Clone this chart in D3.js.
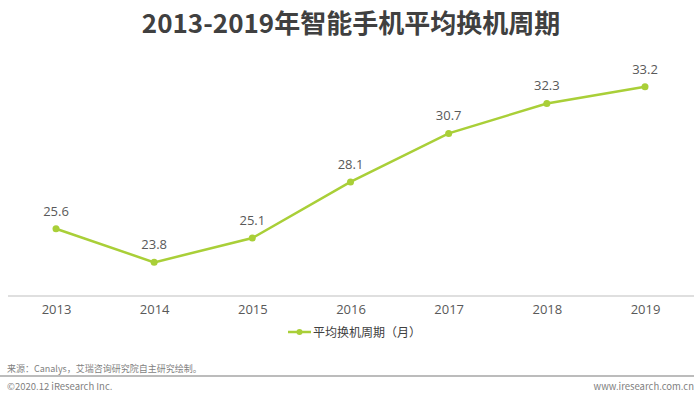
<!DOCTYPE html>
<html>
<head>
<meta charset="utf-8">
<script src="https://cdn.jsdelivr.net/npm/d3@7"></script>
<style>
  body { margin: 0; background: #fff; }
  text { font-family: "Noto Sans CJK SC", "Open Sans", sans-serif; }
</style>
</head>
<body>
<script>
var width = 700,
    height = 399

var years = ['2013', '2014', '2015', '2016', '2017', '2018', '2019']
var cycle = [25.6, 23.8, 25.1, 28.1, 30.7, 32.3, 33.2]

var data = years.map(function(d, i){ return {year: d, v: cycle[i]} })

var green = '#a9cf38'

var x = d3.scalePoint()
    .domain(years)
    .range([56, 645])

var y = d3.scaleLinear()
    .domain([22, 35])
    .range([296, 53])

var svg = d3.select('body').append('svg')
    .attr('width', width)
    .attr('height', height)

svg.append('text')
    .attr('x', 351).attr('y', 33)
    .attr('text-anchor', 'middle')
    .style('font-size', '26px')
    .style('font-weight', 'bold')
    .style('fill', '#404040')
    .text('2013-2019年智能手机平均换机周期')

// x axis
var xAxis = svg.append('g')
    .attr('transform', 'translate(0,296)')
    .call(d3.axisBottom(x).tickSize(0).tickPadding(9))
xAxis.select('.domain').remove()
xAxis.selectAll('text')
    .style('font-size', '13px')
    .style('fill', '#595959')
    .style('font-family', '"Open Sans", sans-serif')

svg.append('line')
    .attr('x1', 8).attr('x2', 694)
    .attr('y1', 296).attr('y2', 296)
    .attr('stroke', '#bfbfbf')
    .attr('stroke-width', 1)

var line = d3.line()
    .x(function(d){ return x(d.year) })
    .y(function(d){ return y(d.v) })

svg.append('path')
    .datum(data)
    .attr('d', line)
    .attr('fill', 'none')
    .attr('stroke', green)
    .attr('stroke-width', 2.5)

svg.selectAll('circle.pt')
    .data(data)
  .enter().append('circle')
    .attr('class', 'pt')
    .attr('cx', function(d){ return x(d.year) })
    .attr('cy', function(d){ return y(d.v) })
    .attr('r', 3.5)
    .attr('fill', green)

svg.selectAll('text.lbl')
    .data(data)
  .enter().append('text')
    .attr('class', 'lbl')
    .attr('x', function(d){ return x(d.year) })
    .attr('y', function(d){ return y(d.v) - 13 })
    .attr('text-anchor', 'middle')
    .style('font-size', '13px')
    .style('fill', '#595959')
    .style('font-family', '"Open Sans", sans-serif')
    .text(function(d){ return d.v.toFixed(1) })

// legend
var lg = svg.append('g').attr('transform', 'translate(288,332)')
lg.append('line')
    .attr('x1', 0).attr('x2', 23)
    .attr('stroke', green).attr('stroke-width', 2.5)
lg.append('circle')
    .attr('cx', 11.5).attr('r', 3).attr('fill', green)
lg.append('text')
    .attr('x', 25).attr('y', 4.5)
    .style('font-size', '12px')
    .style('fill', '#404040')
    .text('平均换机周期（月）')

// footer
svg.append('text')
    .attr('x', 7).attr('y', 372)
    .style('font-size', '9px')
    .style('fill', '#7f7f7f')
    .text('来源：Canalys，艾瑞咨询研究院自主研究绘制。')

svg.append('line')
    .attr('x1', 0).attr('x2', 694)
    .attr('y1', 376).attr('y2', 376)
    .attr('stroke', '#a6a6a6')
    .attr('stroke-width', 1.5)

svg.append('text')
    .attr('x', 7).attr('y', 390)
    .style('font-size', '9.5px')
    .style('fill', '#7f7f7f')
    .text('©2020.12 iResearch Inc.')

svg.append('text')
    .attr('x', 694).attr('y', 390)
    .attr('text-anchor', 'end')
    .style('font-size', '9.5px')
    .style('fill', '#7f7f7f')
    .text('www.iresearch.com.cn')
</script>
</body>
</html>
